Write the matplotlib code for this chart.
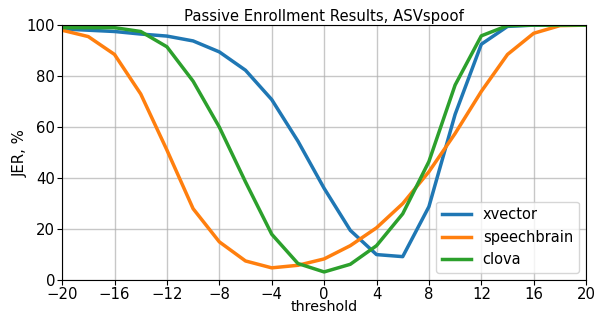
import matplotlib
matplotlib.use("Agg")
import matplotlib.pyplot as plt

thresholds = [-20, -18, -16, -14, -12, -10, -8, -6, -4, -2, 0, 2, 4, 6, 8, 10, 12, 14, 16, 18, 20]
xvector = [98.5, 98, 97.5, 96.5, 95.7, 93.8, 89.5, 82.3, 70.8, 54.5, 36, 19.5, 10, 9.2, 28.8, 65, 92.5, 99.5, 100, 100, 100]
speechbrain = [98, 95.5, 88.5, 73, 51, 28, 15, 7.5, 4.8, 5.8, 8.3, 13.5, 20.5, 30, 42.5, 57.5, 74, 88.5, 96.8, 99.8, 100]
clova = [99, 99, 99, 97.5, 91.5, 78, 60, 38.5, 18, 6.5, 3.2, 6.2, 13.5, 26, 46.5, 76.5, 95.8, 99.8, 100, 100, 100]

fig = plt.figure(figsize=(6.03, 3.14), dpi=100)
ax = fig.add_axes([0.103, 0.108, 0.869, 0.812])

ax.plot(thresholds, xvector, label='xvector', linewidth=2.5)
ax.plot(thresholds, speechbrain, label='speechbrain', linewidth=2.5)
ax.plot(thresholds, clova, label='clova', linewidth=2.5)

ax.set_xlim(-20, 20)
ax.set_ylim(0, 100)
ax.set_xticks(range(-20, 21, 4))
ax.set_yticks(range(0, 101, 20))
ax.tick_params(labelsize=10.7, pad=1.5)
ax.set_xlabel('threshold', fontsize=10.3, labelpad=-1.2)
ax.set_ylabel('JER, %', fontsize=10.7, labelpad=-1)
ax.set_title('Passive Enrollment Results, ASVspoof', fontsize=10.7, pad=3)
ax.legend(loc='lower right', fontsize=10.5)
ax.grid(True, linewidth=1, alpha=0.7)

plt.savefig('out.png', dpi=100)
plt.close()
